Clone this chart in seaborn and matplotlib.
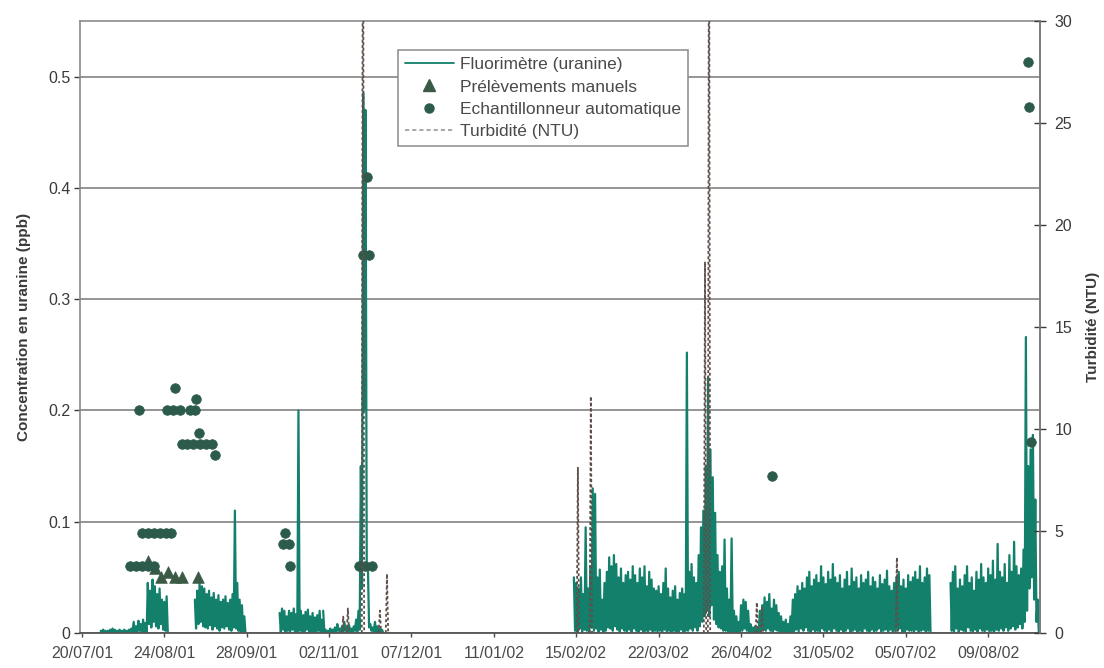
import numpy as np
import pandas as pd
import matplotlib
matplotlib.use("Agg")
import matplotlib.pyplot as plt
import seaborn as sns
from matplotlib.lines import Line2D

# ---------------- data ----------------
ORIGIN = pd.Timestamp("2001-07-20")
STEP = 0.5  # days between fluorimeter readings (12 h)

# Fluorimeter (uranine), readings in 1e-3 ppb, every 12 h, per recording segment
fluo_seg1_start = 8.0
fluo_seg1 = [2, 0, 3, 1, 2, 0, 2, 0, 3, 1, 4, 1, 3, 0, 2, 0, 3, 1, 2, 0, 3, 1, 2, 0, 3, 1, 4, 1,
             10, 1, 6, 0, 11, 2, 8, 0, 12, 1, 9, 0,
             45, 8, 38, 5, 48, 10, 42, 6, 35, 4, 40, 8, 30, 3, 28, 2, 33, 0]
fluo_seg2_start = 48.0
fluo_seg2 = [30, 4, 38, 8, 45, 10, 42, 6, 40, 5, 35, 4, 38, 7, 32, 3, 36, 6, 30, 4,
             34, 2, 28, 5, 30, 4, 33, 6, 27, 3, 30, 2, 35, 5, 110, 4, 45, 2, 30, 1, 25, 1, 15, 0]
fluo_seg3_start = 84.0
fluo_seg3 = [18, 1, 22, 3, 20, 1, 15, 2, 20, 1, 18, 3, 22, 1, 17, 1, 200, 2, 20, 1,
             16, 1, 19, 3, 21, 1, 15, 1, 18, 0, 14, 1, 16, 2, 20, 0, 12, 0]
fluo_seg4_start = 102.5
fluo_seg4 = [20, 1, 3, 0, 2, 1, 4, 0, 3, 1, 5, 0, 8, 2, 4, 0, 6, 1, 10, 2, 5, 0, 7, 1, 4, 0, 6, 2,
             12, 1, 20, 3, 150, 40, 485, 200, 470, 60, 60, 5,
             8, 2, 5, 1, 10, 0, 6, 1, 4, 0, 3, 0]
fluo_seg5_start = 209.0
fluo_seg5 = [50, 2, 45, 1, 40, 4, 50, 1, 35, 3, 95, 2, 40, 1, 60, 5, 130, 2, 125, 4,
             50, 1, 57, 3, 30, 1, 45, 2, 55, 5, 68, 4, 60, 2, 70, 6, 62, 3, 50, 1,
             58, 4, 45, 2, 52, 1, 55, 3, 48, 1, 60, 4, 52, 2, 45, 1, 58, 3, 50, 1,
             60, 2, 42, 1, 55, 3, 48, 1, 40, 2, 38, 1, 42, 2, 35, 1, 45, 3, 58, 1,
             40, 2, 32, 1, 38, 2, 42, 1, 30, 1, 36, 3, 40, 1, 35, 2, 252, 2, 55, 4,
             62, 2, 50, 5, 45, 2, 70, 6, 95, 10, 110, 15, 150, 20, 230, 15, 165, 25, 140, 12,
             108, 8, 70, 5, 55, 4, 60, 2, 84, 2, 40, 1, 30, 1, 85, 1, 20, 0, 15, 1,
             10, 0, 25, 2, 30, 4, 28, 2, 20, 1, 8, 0, 5, 0, 6, 0, 4, 0, 20, 1,
             25, 3, 32, 2, 28, 4, 35, 2, 22, 1, 30, 3, 25, 2, 18, 1, 15, 1, 10, 0,
             12, 1, 8, 0, 15, 1, 30, 1, 35, 3, 42, 1, 38, 4, 45, 2, 40, 5, 50, 2,
             55, 1, 42, 3, 48, 1, 52, 2, 45, 1, 60, 4, 50, 2, 44, 1, 55, 3, 48, 1,
             62, 4, 50, 2, 45, 1, 52, 3, 40, 1, 48, 2, 55, 4, 42, 1, 58, 2, 46, 3,
             50, 1, 40, 2, 52, 1, 45, 4, 48, 2, 55, 1, 42, 3, 50, 1, 46, 2, 40, 4,
             52, 1, 44, 2, 48, 3, 56, 1, 42, 3, 38, 1, 45, 2, 50, 2, 55, 4, 42, 1,
             48, 1, 40, 3, 52, 2, 46, 2, 50, 1, 55, 3, 48, 1, 60, 2, 45, 3, 50, 1,
             58, 2, 52, 0]
fluo_seg6_start = 369.0
fluo_seg6 = [45, 2, 55, 1, 60, 4, 40, 1, 48, 3, 42, 2, 52, 1, 60, 5, 45, 2, 50, 1,
             38, 3, 55, 1, 48, 4, 62, 2, 50, 1, 45, 3, 58, 1, 52, 2, 65, 1, 48, 3,
             80, 2, 55, 4, 50, 2, 62, 5, 45, 2, 70, 4, 55, 6, 82, 3, 60, 5, 52, 8,
             58, 4, 75, 10, 266, 20, 150, 40, 165, 50, 178, 30, 120, 10, 30, 0]

fluo_starts = [fluo_seg1_start, fluo_seg2_start, fluo_seg3_start,
               fluo_seg4_start, fluo_seg5_start, fluo_seg6_start]
fluo_segments = [fluo_seg1, fluo_seg2, fluo_seg3, fluo_seg4, fluo_seg5, fluo_seg6]

# Manual samples (day since 20/07/01, ppb)
manual_days = [28.0, 31.0, 33.6, 36.5, 39.5, 42.5, 49.3]
manual_ppb = [0.065, 0.058, 0.050, 0.055, 0.050, 0.050, 0.050]

# Automatic sampler (day since 20/07/01, ppb)
auto_days = [20.4, 22.9, 25.5, 28.0, 30.6,
             24.2,
             25.5, 28.0, 30.6, 33.1, 35.7, 37.8,
             36.1, 38.7, 41.6, 45.9, 48.0,
             39.5, 48.4, 49.7,
             42.5, 44.6, 47.2, 50.1, 52.7, 55.2, 56.5,
             86.2, 85.4, 87.9, 88.4,
             117.7, 120.2, 123.2, 119.4, 121.9, 121.1,
             293.1, 401.9, 402.3, 403.1]
auto_ppb = [0.06, 0.06, 0.06, 0.06, 0.06,
            0.20,
            0.09, 0.09, 0.09, 0.09, 0.09, 0.09,
            0.20, 0.20, 0.20, 0.20, 0.20,
            0.22, 0.21, 0.18,
            0.17, 0.17, 0.17, 0.17, 0.17, 0.17, 0.16,
            0.09, 0.08, 0.08, 0.06,
            0.06, 0.06, 0.06, 0.34, 0.34, 0.41,
            0.141, 0.513, 0.473, 0.172]

# Turbidity events (day since 20/07/01, NTU); baseline 0 between events
turb_days = [111.0, 113.0, 119.4, 126.6, 129.6, 210.7, 216.2, 264.7, 266.4, 286.7, 288.9, 346.2]
turb_ntu = [0.8, 1.2, 45.0, 1.1, 2.9, 8.1, 11.6, 18.2, 40.0, 1.5, 1.3, 3.7]

tick_labels = ["20/07/01", "24/08/01", "28/09/01", "02/11/01", "07/12/01", "11/01/02",
               "15/02/02", "22/03/02", "26/04/02", "31/05/02", "05/07/02", "09/08/02"]

# ---------------- frames ----------------
rows = []
for k, (s, seg) in enumerate(zip(fluo_starts, fluo_segments)):
    for i, v in enumerate(seg):
        rows.append((k, ORIGIN + pd.to_timedelta(s + i * STEP, unit="D"), v / 1000.0))
df_fluo = pd.DataFrame(rows, columns=["seg", "date", "ppb"])

df_manual = pd.DataFrame({"date": ORIGIN + pd.to_timedelta(manual_days, unit="D"), "ppb": manual_ppb})
df_auto = pd.DataFrame({"date": ORIGIN + pd.to_timedelta(auto_days, unit="D"), "ppb": auto_ppb})

trows = []
for k, (d, v) in enumerate(zip(turb_days, turb_ntu)):
    for dd, vv in ((d - STEP, 0.0), (d, v), (d + STEP, 0.0)):
        trows.append((k, ORIGIN + pd.to_timedelta(dd, unit="D"), vv))
df_turb = pd.DataFrame(trows, columns=["ev", "date", "ntu"])

# ---------------- plot ----------------
sns.set_theme(style="white")
plt.rcParams["font.family"] = ["Liberation Sans", "DejaVu Sans"]

GREEN = "#12806b"
DARK = "#2c5b4b"
TRI = "#3a5a45"
TURB = "#5e4f4b"
GRID = "#8c8c8c"
TXT = "#3a3a3a"

fig = plt.figure(figsize=(11.04, 6.68), dpi=100)
ax = fig.add_axes([80 / 1104, 35 / 668, 960 / 1104, 612 / 668])

sns.lineplot(data=df_fluo, x="date", y="ppb", units="seg", estimator=None, sort=False,
             color=GREEN, lw=1.6, ax=ax, legend=False, zorder=2)
sns.scatterplot(data=df_manual, x="date", y="ppb", marker="^", s=70, color=TRI,
                edgecolor=TRI, linewidth=0.5, ax=ax, zorder=4)
sns.scatterplot(data=df_auto, x="date", y="ppb", marker="o", s=48, color=DARK,
                edgecolor=DARK, linewidth=0.5, ax=ax, zorder=4)

ax.set_ylim(0, 0.55)
xmin = ORIGIN + pd.to_timedelta(-0.8, unit="D")
xmax = ORIGIN + pd.to_timedelta(407.0, unit="D")
ax.set_xlim(xmin, xmax)
ticks = [ORIGIN + pd.to_timedelta(35 * i, unit="D") for i in range(len(tick_labels))]
ax.set_xticks(ticks)
ax.set_xticklabels(tick_labels)
ax.set_yticks([0, 0.1, 0.2, 0.3, 0.4, 0.5])
ax.set_yticklabels(["0", "0.1", "0.2", "0.3", "0.4", "0.5"])
ax.yaxis.grid(True, color=GRID, lw=1.3, zorder=0)
ax.xaxis.grid(False)
ax.set_axisbelow(True)
ax.set_xlabel("")
ax.set_ylabel("Concentration en uranine (ppb)", fontsize=11, fontweight="bold", color=TXT, labelpad=12)
ax.tick_params(axis="y", labelsize=11.5, colors=TXT, length=4, width=1, direction="out", left=True, pad=3)
ax.tick_params(axis="x", labelsize=11.5, colors="#4a4a4a", length=3, width=1, direction="out", bottom=True, pad=6)
for side in ["left", "top", "right"]:
    ax.spines[side].set_color("#8a8a8a")
    ax.spines[side].set_linewidth(1.2)
ax.spines["bottom"].set_color("#555555")
ax.spines["bottom"].set_linewidth(1.3)

ax2 = ax.twinx()
sns.lineplot(data=df_turb, x="date", y="ntu", units="ev", estimator=None, sort=False,
             color=TURB, lw=1.3, linestyle=(0, (1.6, 1.4)), ax=ax2, legend=False)
ax2.set_ylim(0, 30)
ax2.set_xlim(xmin, xmax)
ax2.set_yticks([0, 5, 10, 15, 20, 25, 30])
ax2.set_ylabel("Turbidité (NTU)", fontsize=11, fontweight="bold", color=TXT, labelpad=10)
ax2.tick_params(axis="y", labelsize=11.5, colors=TXT, length=9, width=1, direction="inout", right=True, pad=6)
for side in ["left", "top", "right", "bottom"]:
    ax2.spines[side].set_visible(False)
ax2.spines["right"].set_visible(True)
ax2.spines["right"].set_color("#7a7a7a")
ax2.spines["right"].set_linewidth(1.2)
ax2.grid(False)

handles = [
    Line2D([], [], color=GREEN, lw=1.3),
    Line2D([], [], color=TRI, marker="^", ls="none", markersize=8),
    Line2D([], [], color=DARK, marker="o", ls="none", markersize=6.5),
    Line2D([], [], color="#9a9a9a", lw=1.2, ls=(0, (2.5, 1.8))),
]
labels = ["Fluorimètre (uranine)", "Prélèvements manuels", "Echantillonneur automatique", "Turbidité (NTU)"]
leg = ax2.legend(handles, labels, loc="upper left", bbox_to_anchor=(398 / 1104, 1 - 50 / 668),
                 bbox_transform=fig.transFigure, fontsize=12.5, frameon=True, fancybox=False,
                 edgecolor="#8a8a8a", framealpha=1, handlelength=2.8, handletextpad=0.4,
                 labelspacing=0.42, borderpad=0.4, borderaxespad=0)
leg.get_frame().set_linewidth(1.1)
for t in leg.get_texts():
    t.set_color("#4a4a4a")
leg.set_zorder(10)

fig.savefig("out.png", dpi=100)
